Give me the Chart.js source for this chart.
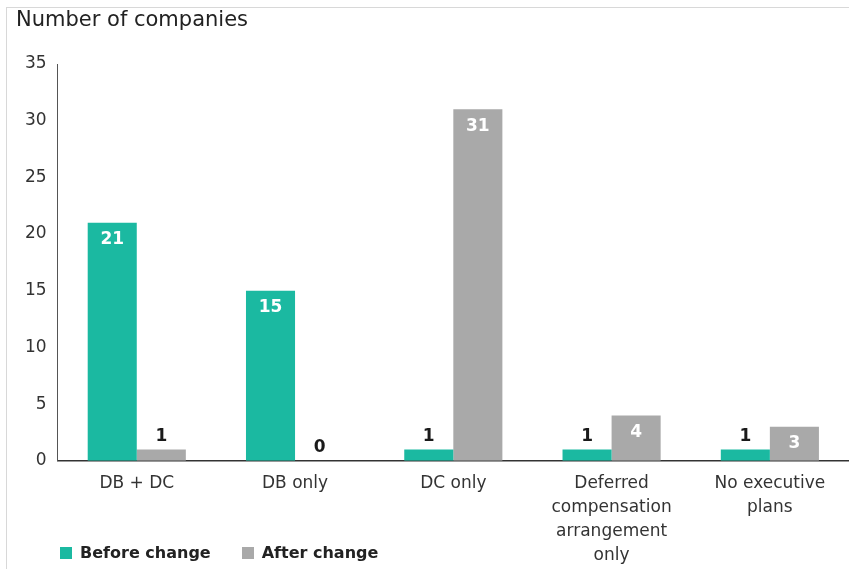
<!DOCTYPE html>
<html>
<head>
<meta charset="utf-8">
<script src="https://cdn.jsdelivr.net/npm/chart.js@4/dist/chart.umd.min.js"></script>
<style>
  html, body { margin: 0; padding: 0; background: #fff; }
  #wrap { position: relative; width: 849px; height: 569px; }
  #frame { position: absolute; left: 6px; top: 7px; right: 0; bottom: 0; border-left: 1px solid #d8d8d8; border-top: 1px solid #d8d8d8; pointer-events: none; }
  #title { position: absolute; left: 16px; top: 7px; font: 21px "DejaVu Sans", sans-serif; color: #222; }
  #legend { position: absolute; left: 60px; top: 543px; font: bold 16px "DejaVu Sans", sans-serif; color: #222; display: flex; gap: 31px; }
  #legend span.box { display: inline-block; width: 12px; height: 12px; margin-right: 8px; vertical-align: -1px; }
</style>
</head>
<body>
<div id="wrap">
  <canvas id="chart" width="849" height="569"></canvas>
  <div id="frame"></div>
  <div id="title">Number of companies</div>
  <div id="legend"></div>
</div>
<script>
const categories = [
    'DB + DC',
    'DB only',
    'DC only',
    ['Deferred', 'compensation', 'arrangement', 'only'],
    ['No executive', 'plans']
];
const beforeChange = [21, 15, 1, 1, 1];
const afterChange = [1, 0, 31, 4, 3];
const yTicks = [0, 5, 10, 15, 20, 25, 30, 35];

const teal = '#1bb9a1';
const grey = '#a9a9a9';

// value labels: white inside tall bars, dark above short ones
const barLabels = {
    id: 'barLabels',
    afterDatasetsDraw(chart) {
        const ctx = chart.ctx;
        ctx.save();
        ctx.font = 'bold 17px "DejaVu Sans", sans-serif';
        ctx.textAlign = 'center';
        ctx.textBaseline = 'middle';
        chart.data.datasets.forEach((ds, i) => {
            chart.getDatasetMeta(i).data.forEach((bar, j) => {
                const v = ds.data[j];
                if (v >= 3) {
                    ctx.fillStyle = '#fff';
                    ctx.fillText(v, bar.x, bar.y + 17);
                } else {
                    ctx.fillStyle = '#1a1a1a';
                    ctx.fillText(v, bar.x, bar.y - 13);
                }
            });
        });
        ctx.restore();
    }
};

const ctx = document.getElementById('chart').getContext('2d');
const chart = new Chart(ctx, {
    type: 'bar',
    data: {
        labels: categories,
        datasets: [
            { label: 'Before change', data: beforeChange, backgroundColor: teal },
            { label: 'After change', data: afterChange, backgroundColor: grey }
        ]
    },
    options: {
        responsive: false,
        animation: false,
        categoryPercentage: 0.62,
        barPercentage: 1,
        layout: { padding: { left: 14, right: 0, top: 64, bottom: -9 } },
        plugins: {
            legend: { display: false },
            tooltip: { enabled: false }
        },
        scales: {
            x: {
                grid: { display: false, drawTicks: false },
                border: { color: '#333', width: 1.5 },
                ticks: {
                    color: '#333',
                    padding: 11,
                    maxRotation: 0,
                    font: { family: '"DejaVu Sans", sans-serif', size: 17, lineHeight: 1.4 }
                }
            },
            y: {
                min: 0,
                max: 35,
                afterBuildTicks(axis) { axis.ticks = yTicks.map(v => ({ value: v })); },
                grid: { display: false, drawTicks: false },
                border: { color: '#555', width: 1 },
                ticks: {
                    color: '#333',
                    padding: 11,
                    font: { family: '"DejaVu Sans", sans-serif', size: 17 }
                }
            }
        }
    },
    plugins: [barLabels]
});

// legend row below the plot
const legend = document.getElementById('legend');
chart.data.datasets.forEach(ds => {
    const item = document.createElement('div');
    item.innerHTML = '<span class="box" style="background:' + ds.backgroundColor + '"></span>' + ds.label;
    legend.appendChild(item);
});
</script>
</body>
</html>
